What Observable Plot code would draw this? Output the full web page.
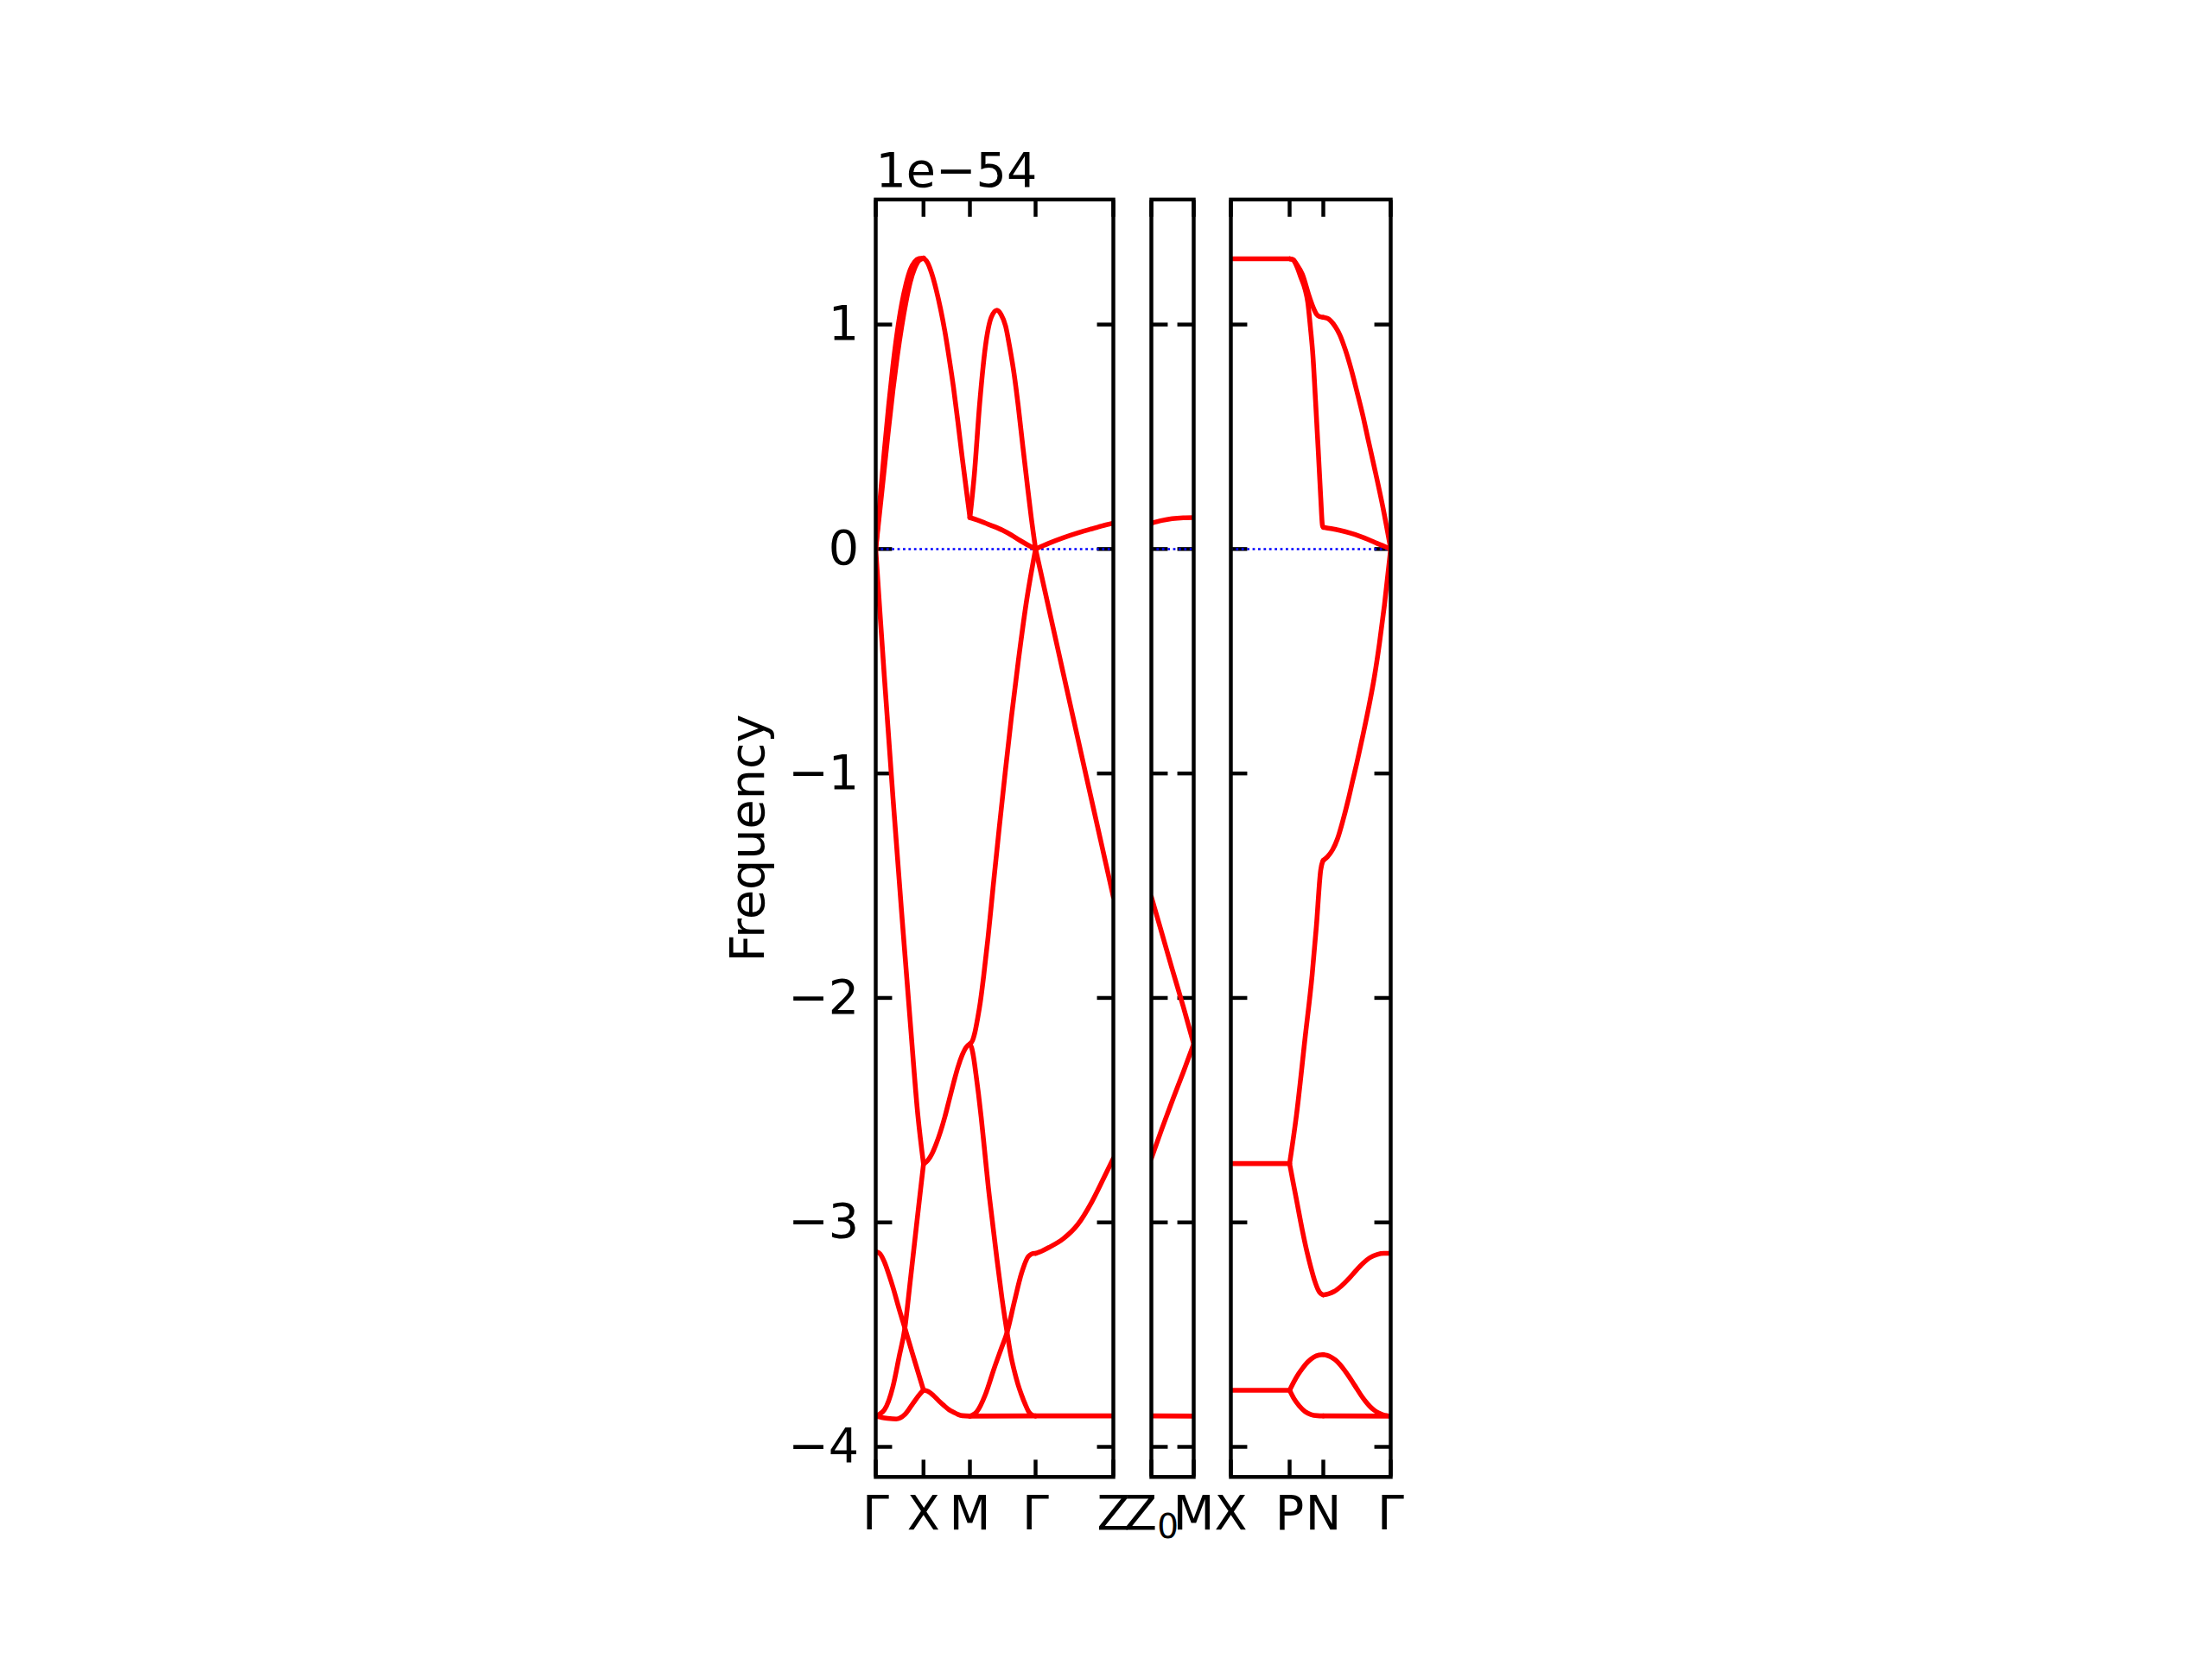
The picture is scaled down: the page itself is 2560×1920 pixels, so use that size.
<!DOCTYPE html>
<html>
<head>
<meta charset="utf-8">
<script src="https://cdn.jsdelivr.net/npm/d3@7"></script>
<script src="https://cdn.jsdelivr.net/npm/@observablehq/plot@0.6"></script>
<style>
html, body { margin: 0; padding: 0; background: #ffffff; }
#fig { position: relative; width: 2560px; height: 1920px; overflow: hidden; background: #ffffff; }
#fig svg { position: absolute; left: 0; top: 0; }
</style>
</head>
<body>
<div id="fig"></div>
<script>
// ---------------- data ----------------
const yTicks = [-4, -3, -2, -1, 0, 1];
const yDomain = [-4.134, 1.557];
const offsetText = "1e−54";
const yLabel = "Frequency";

const panel1Labels = ["Γ", "X", "M", "Γ", "Z"];
const panel1Ticks = [0, 0.553, 1.09, 1.85, 2.75];
const panel2Labels = ["Z₀", "M"];
const panel2Ticks = [2.75, 3.24];
const panel3Labels = ["X", "P", "N", "Γ"];
const panel3Ticks = [3.24, 3.92, 4.31, 5.09];

// bands, one list of [k, frequency] points per band, per path segment
const bandsGX = [
  [[0,0],[0.05,0.22],[0.10,0.44],[0.15,0.64],[0.20,0.82],[0.25,0.97],[0.30,1.09],[0.35,1.18],[0.40,1.245],[0.45,1.28],[0.50,1.294],[0.553,1.296]],
  [[0,0],[0.05,0.18],[0.10,0.36],[0.15,0.54],[0.20,0.71],[0.25,0.86],[0.30,0.99],[0.35,1.10],[0.40,1.19],[0.45,1.25],[0.50,1.285],[0.553,1.296]],
  [[0,0],[0.05,-0.29],[0.10,-0.57],[0.20,-1.11],[0.30,-1.62],[0.40,-2.11],[0.487,-2.52],[0.553,-2.74]],
  [[0,-3.13],[0.05,-3.14],[0.10,-3.176],[0.15,-3.23],[0.20,-3.29],[0.27,-3.385],[0.34,-3.474],[0.42,-3.578],[0.50,-3.68],[0.553,-3.747]],
  [[0,-3.862],[0.10,-3.835],[0.20,-3.73],[0.27,-3.60],[0.337,-3.471],[0.40,-3.26],[0.47,-3.02],[0.52,-2.85],[0.553,-2.74]],
  [[0,-3.862],[0.07,-3.869],[0.137,-3.873],[0.237,-3.876],[0.337,-3.856],[0.437,-3.803],[0.50,-3.77],[0.553,-3.747]]
];
const bandsXM = [
  [[0.553,1.296],[0.60,1.275],[0.65,1.225],[0.70,1.155],[0.75,1.07],[0.80,0.97],[0.85,0.85],[0.90,0.72],[0.95,0.57],[1.00,0.41],[1.05,0.26],[1.09,0.14]],
  [[0.553,-2.74],[0.60,-2.725],[0.65,-2.695],[0.70,-2.65],[0.75,-2.595],[0.80,-2.53],[0.85,-2.455],[0.90,-2.38],[0.95,-2.31],[1.00,-2.255],[1.05,-2.218],[1.09,-2.205]],
  [[0.553,-3.747],[0.60,-3.752],[0.67,-3.772],[0.73,-3.795],[0.787,-3.815],[0.85,-3.835],[0.903,-3.846],[0.95,-3.855],[1.003,-3.861],[1.09,-3.863]]
];
const bandsMG = [
  [[1.09,0.14],[1.14,0.326],[1.203,0.648],[1.27,0.904],[1.337,1.032],[1.403,1.064],[1.45,1.045],[1.503,0.993],[1.55,0.90],[1.603,0.776],[1.65,0.635],[1.703,0.455],[1.75,0.30],[1.80,0.14],[1.85,0]],
  [[1.09,0.14],[1.17,0.13],[1.27,0.115],[1.37,0.10],[1.47,0.083],[1.57,0.062],[1.67,0.038],[1.76,0.018],[1.85,0]],
  [[1.09,-2.205],[1.12,-2.19],[1.15,-2.15],[1.18,-2.09],[1.21,-2.02],[1.25,-1.90],[1.30,-1.73],[1.36,-1.50],[1.43,-1.24],[1.50,-0.99],[1.57,-0.75],[1.65,-0.50],[1.75,-0.22],[1.85,0]],
  [[1.09,-2.205],[1.11,-2.222],[1.135,-2.27],[1.16,-2.34],[1.19,-2.43],[1.22,-2.53],[1.26,-2.68],[1.303,-2.842],[1.35,-2.995],[1.403,-3.164],[1.46,-3.335],[1.52,-3.49],[1.56,-3.585],[1.603,-3.66],[1.645,-3.72],[1.687,-3.768],[1.73,-3.81],[1.77,-3.843],[1.81,-3.858],[1.85,-3.862]],
  [[1.09,-3.863],[1.13,-3.856],[1.17,-3.843],[1.27,-3.766],[1.37,-3.651],[1.45,-3.565],[1.52,-3.49],[1.603,-3.356],[1.687,-3.227],[1.77,-3.15],[1.837,-3.138],[1.85,-3.138]],
  [[1.09,-3.863],[1.85,-3.862]]
];
const bandsGZ = [
  [[1.85,0],[2.0,0.025],[2.17,0.05],[2.35,0.073],[2.5,0.09],[2.62,0.103],[2.75,0.115]],
  [[1.85,0],[2.203,-0.61],[2.47,-1.07],[2.75,-1.55]],
  [[1.85,-3.138],[1.92,-3.128],[2.003,-3.112],[2.17,-3.073],[2.337,-3.01],[2.503,-2.907],[2.637,-2.804],[2.75,-2.715]],
  [[1.85,-3.862],[2.75,-3.862]]
];
const bandsZ0M = [
  [[2.75,0.115],[2.87,0.127],[2.99,0.135],[3.12,0.139],[3.24,0.14]],
  [[2.75,-1.55],[2.87,-1.71],[2.99,-1.87],[3.12,-2.04],[3.24,-2.205]],
  [[2.75,-2.715],[2.87,-2.585],[2.99,-2.46],[3.12,-2.33],[3.24,-2.205]],
  [[2.75,-3.862],[3.24,-3.863]]
];
const bandsXP = [
  [[3.24,1.293],[3.92,1.293]],
  [[3.24,-2.738],[3.92,-2.738]],
  [[3.24,-3.748],[3.92,-3.748]]
];
const bandsPN = [
  [[3.92,1.293],[3.96,1.29],[4.00,1.27],[4.067,1.224],[4.15,1.122],[4.20,1.07],[4.233,1.045],[4.27,1.035],[4.31,1.032]],
  [[3.92,1.293],[3.96,1.288],[4.00,1.262],[4.05,1.21],[4.10,1.155],[4.13,1.10],[4.16,0.99],[4.19,0.86],[4.22,0.66],[4.25,0.45],[4.28,0.23],[4.30,0.105],[4.31,0.097]],
  [[3.92,-2.738],[4.00,-2.52],[4.10,-2.175],[4.18,-1.90],[4.23,-1.68],[4.28,-1.43],[4.30,-1.395],[4.31,-1.387]],
  [[3.92,-2.738],[3.96,-2.82],[4.00,-2.90],[4.067,-3.035],[4.12,-3.13],[4.167,-3.202],[4.21,-3.26],[4.25,-3.30],[4.28,-3.317],[4.31,-3.323]],
  [[3.92,-3.748],[3.97,-3.71],[4.02,-3.677],[4.067,-3.651],[4.13,-3.622],[4.20,-3.60],[4.26,-3.591],[4.31,-3.589]],
  [[3.92,-3.748],[3.97,-3.785],[4.033,-3.818],[4.10,-3.843],[4.167,-3.856],[4.24,-3.861],[4.31,-3.862]]
];
const bandsNG = [
  [[4.31,1.032],[4.36,1.027],[4.40,1.015],[4.45,0.99],[4.50,0.955],[4.567,0.885],[4.633,0.80],[4.70,0.70],[4.767,0.596],[4.833,0.48],[4.90,0.365],[5.0,0.185],[5.09,0]],
  [[4.31,0.097],[4.40,0.091],[4.50,0.083],[4.62,0.071],[4.733,0.057],[4.833,0.042],[4.933,0.025],[5.01,0.013],[5.09,0]],
  [[4.31,-1.387],[4.36,-1.37],[4.417,-1.34],[4.475,-1.29],[4.533,-1.215],[4.60,-1.115],[4.65,-1.032],[4.70,-0.95],[4.767,-0.832],[4.833,-0.71],[4.90,-0.572],[4.96,-0.42],[5.017,-0.251],[5.09,0]],
  [[4.31,-3.323],[4.37,-3.318],[4.433,-3.308],[4.52,-3.283],[4.60,-3.253],[4.68,-3.218],[4.767,-3.183],[4.85,-3.157],[4.933,-3.143],[5.01,-3.138],[5.09,-3.138]],
  [[4.31,-3.589],[4.35,-3.592],[4.40,-3.600],[4.45,-3.613],[4.50,-3.632],[4.55,-3.656],[4.60,-3.683],[4.65,-3.712],[4.70,-3.742],[4.75,-3.772],[4.80,-3.798],[4.85,-3.82],[4.90,-3.837],[4.95,-3.849],[5.00,-3.857],[5.05,-3.861],[5.09,-3.863]],
  [[4.31,-3.862],[5.09,-3.863]]
];

// ---------------- layout ----------------
const W = 2560, H = 1920;
const FS = 55.56;          // 10pt at 400 dpi
const TICK = 19.44;        // 3.5pt
const LW = 5.56;           // 1pt
const AXW = 4.44;          // 0.8pt
const PX_PER_K = 100;
const TOP = 230.4, BOTTOM = 1708.8;

const panels = [
  {segs: [bandsGX, bandsXM, bandsMG, bandsGZ], ticks: panel1Ticks, labels: panel1Labels, left: 1013},
  {segs: [bandsZ0M], ticks: panel2Ticks, labels: panel2Labels, left: 1332},
  {segs: [bandsXP, bandsPN, bandsNG], ticks: panel3Ticks, labels: panel3Labels, left: 1424}
];

const fmt = d => (d < 0 ? "−" + (-d) : String(d));
const fig = document.getElementById("fig");

panels.forEach((p, i) => {
  const rows = [];
  p.segs.forEach((seg, s) => seg.forEach((band, b) => band.forEach(([k, f]) => rows.push({band: `${s}-${b}`, k, f}))));
  const pts = p.ticks.map((k, j) => ({k, label: p.labels[j]}));
  const k0 = p.ticks[0], k1 = p.ticks[p.ticks.length - 1];
  const right = p.left + (k1 - k0) * PX_PER_K;

  const marks = [
    Plot.axisY(yTicks, {anchor: "left", tickSize: -TICK, fill: "none", strokeWidth: AXW, stroke: "black"}),
    Plot.axisY(yTicks, {anchor: "right", tickSize: -TICK, fill: "none", strokeWidth: AXW, stroke: "black"}),
    Plot.axisX(p.ticks, {anchor: "bottom", tickSize: -TICK, fill: "none", strokeWidth: AXW, stroke: "black"}),
    Plot.axisX(p.ticks, {anchor: "top", tickSize: -TICK, fill: "none", strokeWidth: AXW, stroke: "black"}),
    Plot.ruleY([0], {stroke: "blue", strokeWidth: 2.5, strokeDasharray: "2.8,3.6"}),
    Plot.line(rows, {x: "k", y: "f", z: "band", stroke: "red", strokeWidth: LW, curve: "monotone-x",
      strokeLinecap: "round", strokeLinejoin: "round", clip: true}),
    Plot.frame({stroke: "black", strokeWidth: AXW}),
    Plot.text(pts, {x: "k", text: "label", frameAnchor: "bottom", lineAnchor: "top", dy: 21.7, fill: "black"})
  ];
  if (i === 0) {
    marks.push(Plot.axisY(yTicks, {anchor: "left", tickSize: 0, tickPadding: TICK, tickFormat: fmt, label: null, fill: "black"}));
    marks.push(Plot.text([offsetText], {text: d => d, frameAnchor: "top-left", textAnchor: "start", lineAnchor: "bottom", dy: -15.4, fill: "black"}));
    marks.push(Plot.text([yLabel], {text: d => d, frameAnchor: "left", textAnchor: "middle", rotate: -90, lineAnchor: "bottom", dx: -130, fill: "black"}));
  }

  const svg = Plot.plot({
    width: W, height: H,
    marginTop: TOP, marginBottom: H - BOTTOM,
    marginLeft: p.left, marginRight: W - right,
    x: {domain: [k0, k1]},
    y: {domain: yDomain},
    style: {background: "transparent", fontFamily: "DejaVu Sans", fontSize: FS + "px", color: "black", overflow: "visible"},
    marks
  });

  // render the "₀" of the Z₀ label as a real subscript
  d3.select(svg).selectAll("text").each(function () {
    const node = this.querySelector("tspan") || this;
    const t = node.textContent;
    if (t && t.includes("₀")) {
      const base = t.replace("₀", "");
      const sel = d3.select(node);
      sel.text(null);
      sel.append("tspan").text(base);
      sel.append("tspan").attr("font-size", (FS * 0.7) + "px").attr("dy", 9.5).text("0");
    }
  });

  fig.appendChild(svg);
});
</script>
</body>
</html>
